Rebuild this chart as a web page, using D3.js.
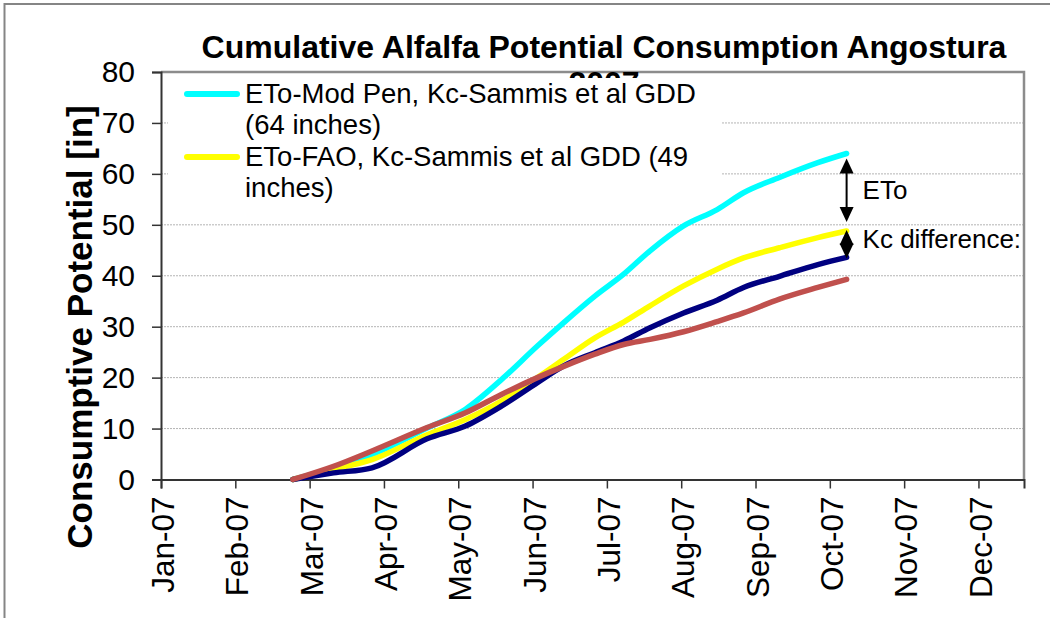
<!DOCTYPE html>
<html>
<head>
<meta charset="utf-8">
<script src="https://cdn.jsdelivr.net/npm/d3@7"></script>
<style>
  body { margin: 0; background: #fff; }
  svg { display: block; font-family: Arial, "Liberation Sans", sans-serif; }
</style>
</head>
<body>
<svg id="chart" width="1050" height="618"></svg>
<script>
// sample dates (shared by all four series)
var dates = ["2007-02-25", "2007-03-14", "2007-03-30", "2007-04-22", "2007-05-08", "2007-05-23",
  "2007-06-07", "2007-06-18", "2007-07-01", "2007-07-13", "2007-07-24", "2007-08-07",
  "2007-08-21", "2007-09-01", "2007-09-16", "2007-10-02", "2007-10-14"]

var modPen = [0, 2.3, 4.9, 10.1, 13.8, 19.6, 26.2, 30.8, 36.0, 40.3, 44.9, 49.8, 53.0, 56.3, 59.3, 62.2, 64.0]
var fao = [0, 2.0, 3.9, 8.8, 11.8, 15.4, 20.0, 23.6, 27.8, 30.9, 34.1, 38.0, 41.3, 43.5, 45.5, 47.5, 48.8]
var navySeries = [0, 1.3, 2.3, 8.0, 10.5, 14.4, 19.0, 22.3, 24.9, 27.2, 29.8, 32.7, 35.2, 37.7, 39.9, 42.2, 43.6]
var redSeries = [0, 2.6, 5.6, 10.2, 13.1, 16.7, 20.0, 22.2, 24.6, 26.5, 27.5, 29.0, 31.0, 32.7, 35.4, 37.7, 39.3]

var yTicks = [0, 10, 20, 30, 40, 50, 60, 70, 80]
var monthTicks = ["2007-01-01", "2007-02-01", "2007-03-04", "2007-04-04", "2007-05-05", "2007-06-05",
  "2007-07-06", "2007-08-06", "2007-09-06", "2007-10-07", "2007-11-07", "2007-12-08"]

var legendLabels = [["ETo-Mod Pen, Kc-Sammis et al GDD", "(64 inches)"],
  ["ETo-FAO, Kc-Sammis et al GDD (49", "inches)"]]

var parse = d3.timeParse("%Y-%m-%d")

var dims = {
  width: 1050,
  height: 618,
  plot: { left: 161, right: 1024, top: 72, bottom: 479.5 }
}

var svg = d3.select("#chart")

// outer chart frame
svg.append("rect")
  .attr("x", 4.5).attr("y", 4)
  .attr("width", 1100).attr("height", 700)
  .attr("fill", "#fff")
  .attr("stroke", "#858585")
  .attr("stroke-width", 2)

var x = d3.scaleTime()
  .domain([parse("2007-01-01"), parse("2007-12-27")])
  .range([dims.plot.left, dims.plot.right])

var y = d3.scaleLinear()
  .domain([0, 80])
  .range([dims.plot.bottom, dims.plot.top])

// gridlines
svg.append("g")
  .selectAll("line")
  .data(yTicks.filter(d => d > 0 && d < 80))
  .join("line")
    .attr("x1", dims.plot.left)
    .attr("x2", dims.plot.right)
    .attr("y1", d => y(d))
    .attr("y2", d => y(d))
    .attr("stroke", "#b4b4b4")
    .attr("stroke-width", 1)
    .attr("stroke-dasharray", "2,1")

// plot border top + right
svg.append("path")
  .attr("d", `M${dims.plot.left},${dims.plot.top}H${dims.plot.right}V${dims.plot.bottom}`)
  .attr("fill", "none")
  .attr("stroke", "#8c8c8c")
  .attr("stroke-width", 2.5)

// axes
var yAxis = svg.append("g")
  .attr("transform", `translate(${dims.plot.left},0)`)
  .call(d3.axisLeft(y).tickValues(yTicks).tickSize(9).tickPadding(17))
yAxis.select(".domain").attr("stroke", "#333").attr("stroke-width", 2)
yAxis.selectAll(".tick line").attr("stroke", "#333").attr("stroke-width", 1.5)
yAxis.selectAll("text")
  .style("font-size", "30px")
  .attr("font-family", "Arial, 'Liberation Sans', sans-serif")
  .attr("fill", "#000")

var xAxis = svg.append("g")
  .attr("transform", `translate(0,${dims.plot.bottom})`)
  .call(d3.axisBottom(x).tickValues(monthTicks.map(parse)).tickFormat(d3.timeFormat("%b-%y")).tickSize(9))
xAxis.select(".domain").attr("stroke", "#333").attr("stroke-width", 2)
xAxis.selectAll(".tick line").attr("stroke", "#333").attr("stroke-width", 1.5)
xAxis.selectAll("text")
  .style("font-size", "31.5px")
  .attr("font-family", "Arial, 'Liberation Sans', sans-serif")
  .attr("fill", "#000")
  .attr("text-anchor", "end")
  .attr("dy", "0.4em")
  .attr("transform", "translate(0,17)rotate(-90)")
  .attr("x", 0)
  .attr("y", 0)

// y title
svg.append("text")
  .attr("transform", "translate(92,327)rotate(-90)")
  .attr("text-anchor", "middle")
  .style("font-size", "35px")
  .style("font-weight", "bold")
  .text("Consumptive Potential [in]")

// lines
var series = [
  { values: modPen, color: "#00ffff" },
  { values: fao, color: "#ffff00" },
  { values: navySeries, color: "#000080" },
  { values: redSeries, color: "#c0504d" }
]

var line = d3.line()
  .x((d, i) => x(parse(dates[i])))
  .y(d => y(d))
  .curve(d3.curveMonotoneX)

svg.append("g")
  .selectAll("path")
  .data(series)
  .join("path")
    .attr("d", d => line(d.values))
    .attr("fill", "none")
    .attr("stroke", d => d.color)
    .attr("stroke-width", 5.5)
    .attr("stroke-linecap", "round")
    .attr("stroke-linejoin", "round")

// title, second line gets mostly covered by the legend box
var title = svg.append("text")
  .attr("x", 604)
  .attr("y", 58)
  .attr("text-anchor", "middle")
  .style("font-size", "32px")
  .style("font-weight", "bold")
title.append("tspan").text("Cumulative Alfalfa Potential Consumption Angostura")
title.append("tspan").attr("x", 604).attr("dy", 36).text("2007")

// legend
var legend = svg.append("g")
legend.append("rect")
  .attr("x", 168).attr("y", 78)
  .attr("width", 554).attr("height", 120)
  .attr("fill", "#fff")

legendLabels.forEach(function(lines, k){
  var top = 94 + k * 63
  legend.append("line")
    .attr("x1", 187).attr("x2", 237)
    .attr("y1", top).attr("y2", top)
    .attr("stroke", series[k].color)
    .attr("stroke-width", 6)
    .attr("stroke-linecap", "round")
  legend.append("text")
    .attr("x", 245).attr("y", top + 9)
    .style("font-size", "27.5px")
    .text(lines[0])
  legend.append("text")
    .attr("x", 245).attr("y", top + 40)
    .style("font-size", "27.5px")
    .text(lines[1])
})

// annotations
var last = dates.length - 1
var ax = x(parse(dates[last]))
var yCyan = y(modPen[last]), yYel = y(fao[last]), yNavy = y(navySeries[last])

function head(xc, yTip, dir){
  // dir = -1 points up, 1 points down
  return `M${xc},${yTip}L${xc - 7},${yTip - dir * 15}L${xc + 7},${yTip - dir * 15}Z`
}

var ann = svg.append("g")
ann.append("line")
  .attr("x1", ax).attr("x2", ax)
  .attr("y1", yCyan + 10).attr("y2", yYel - 14)
  .attr("stroke", "#000").attr("stroke-width", 2)
ann.append("path").attr("d", head(ax, yCyan + 5, -1))
ann.append("path").attr("d", head(ax, yYel - 9, 1))
ann.append("path").attr("d", head(ax, yYel - 1, -1))
ann.append("path").attr("d", head(ax, yNavy + 1, 1))

ann.append("text")
  .attr("x", ax + 16).attr("y", (yCyan + yYel) / 2 + 7)
  .style("font-size", "26px")
  .text("ETo")
ann.append("text")
  .attr("x", ax + 16).attr("y", (yYel + yNavy) / 2 + 4)
  .style("font-size", "26px")
  .text("Kc difference:")
</script>
</body>
</html>
